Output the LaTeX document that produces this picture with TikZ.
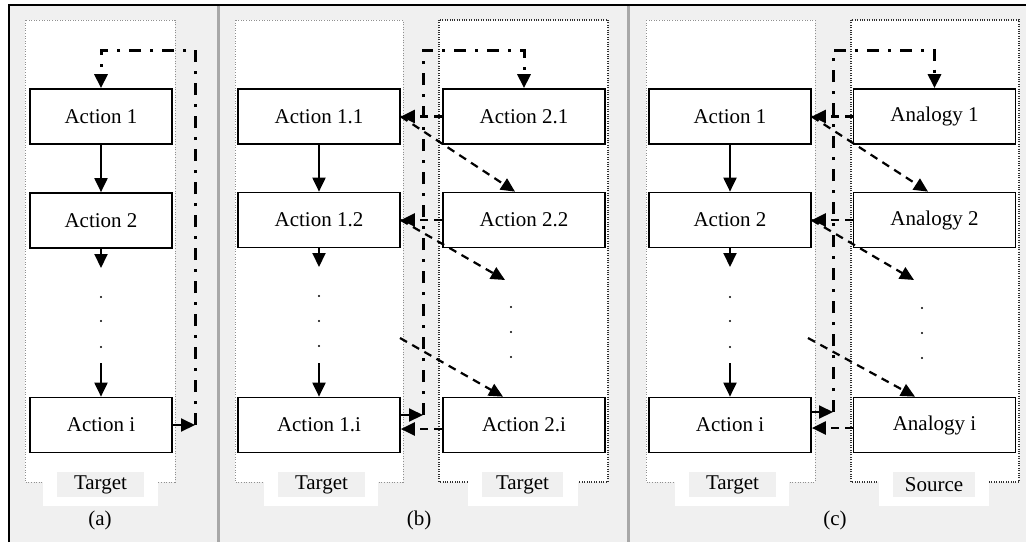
\documentclass[tikz,border=0pt]{standalone}
\usepackage{fontspec}
\setmainfont{Liberation Serif}
\usetikzlibrary{arrows.meta}
\definecolor{bgc}{HTML}{F0F0F0}
\definecolor{sepc}{HTML}{A8A8A8}
\definecolor{dotlight}{HTML}{909090}
\definecolor{dotdark}{HTML}{303030}
\begin{document}
\begin{tikzpicture}[x=1pt,y=-1pt,
  txt/.style={font=\fontsize{21}{24}\selectfont},
  box/.style={txt,draw,line width=1.7pt,fill=white,minimum height=55pt,inner sep=0pt},
  nbox/.style={box,minimum width=142pt},
  wbox/.style={box,minimum width=162pt},
  tip/.style={-{Triangle[length=14pt,width=13pt]}},
  solidarrow/.style={tip,line width=2pt},
  dasharrow/.style={tip,line width=2.2pt,dash pattern=on 8pt off 6pt},
  dashdot/.style={tip,line width=3pt,dash pattern=on 12pt off 9pt on 3pt off 9pt},
  contl/.style={draw=dotlight,fill=white,line width=1pt,dash pattern=on 1pt off 1.6pt},
  contd/.style={draw=dotdark,fill=white,line width=1.1pt,dash pattern=on 1pt off 1.4pt},
  whitelab/.style={fill=white,minimum height=34pt,inner sep=0pt},
  graylab/.style={txt,fill=bgc,minimum height=25pt,inner sep=0pt}
]
\useasboundingbox (0,0) rectangle (1026,542);
\fill[white] (0,0) rectangle (1026,542);
\fill[bgc] (8,4) rectangle (1026,542);
\draw[line width=2pt] (8.5,542) -- (8.5,4.5) -- (1026,4.5);
\draw[sepc,line width=3pt] (218,5.5) -- (218,542);
\draw[sepc,line width=3pt] (628,5.5) -- (628,542);

% containers
\draw[contl] (25,20) rectangle (175,482);
\draw[contl] (235,20) rectangle (403,482);
\draw[contd] (439,20) rectangle (608,482);
\draw[contl] (646,20) rectangle (815,482);
\draw[contd] (851,20) rectangle (1019,482);

% bottom labels
\node[whitelab,minimum width=115pt] (wla) at (100.5,489) {};
\node[graylab,minimum width=87pt] (la) at (100.5,484.5) {Target};
\node[whitelab,minimum width=114pt] (wlb1) at (321,489) {};
\node[graylab,minimum width=87pt] (lb1) at (321.5,484.5) {Target};
\node[whitelab,minimum width=110pt] (wlb2) at (523,489) {};
\node[graylab,minimum width=81pt] (lb2) at (522.5,484.5) {Target};
\node[whitelab,minimum width=114pt] (wlc1) at (732,489) {};
\node[graylab,minimum width=87pt] (lc1) at (732.5,484.5) {Target};
\node[whitelab,minimum width=110pt] (wlc2) at (934,489) {};
\node[graylab,minimum width=82pt] (lc2) at (934,484.5) {Source};

\node[txt] (pa) at (100,520) {(a)};
\node[txt] (pb) at (419,520) {(b)};
\node[txt] (pc) at (835,520) {(c)};

% ---------- panel (a)
\node[nbox] (a1) at (101,116.5) {Action 1};
\node[nbox] (a2) at (101,220.5) {Action 2};
\node[nbox] (ai) at (101,425) {Action i};
\coordinate (a3) at (101,268);
\coordinate (a4) at (101,363);
\coordinate (aj) at (195,425);
\coordinate (atop) at (195,50);
\draw[solidarrow] (a1) -- (a2);
\draw[solidarrow] (a2.south) -- (a3);
\draw[solidarrow] (a4) -- (ai.north);
\foreach \y in {297,321,347} \fill (101,\y) circle (1.2pt);
\draw[solidarrow] (ai.east) -- (aj);
\draw[dashdot] (aj) -- (atop) -| (a1.north);

% ---------- panel (b)
\node[wbox] (b11) at (319,116.5) {Action 1.1};
\node[wbox] (b12) at (319,220) {Action 1.2};
\node[wbox] (b1i) at (319,425) {Action 1.i};
\node[wbox] (b21) at (524,116.5) {Action 2.1};
\node[wbox] (b22) at (524,220) {Action 2.2};
\node[wbox] (b2i) at (524,425) {Action 2.i};
\coordinate (b3) at (319,267);
\coordinate (b4) at (319,363);
\draw[solidarrow] (b11) -- (b12);
\draw[solidarrow] (b12.south) -- (b3);
\draw[solidarrow] (b4) -- (b1i.north);
\foreach \y in {296,321,346} \fill (319,\y) circle (1.2pt);
\foreach \y in {307,332,357} \fill (511,\y) circle (1.2pt);
\draw[dasharrow] (b21.west) -- (b11.east);
\draw[dasharrow] (b22.west) -- (b12.east);
\draw[dasharrow] ([yshift=-4pt]b2i.west) -- ([yshift=-4pt]b1i.east);
\coordinate (bd2) at (505,280);
\coordinate (bd3) at (400,338);
\draw[dasharrow] (b11.east) -- ([xshift=-9pt]b22.north);
\draw[dasharrow] (b12.east) -- (bd2);
\draw[dasharrow] (bd3) -- ([xshift=-21pt]b2i.north);
\coordinate (bj) at (423,415);
\coordinate (btop) at (423,50);
\draw[solidarrow] ([yshift=10pt]b1i.east) -- (bj);
\draw[dashdot] (bj) -- (btop) -| (b21.north);

% ---------- panel (c)
\node[wbox] (c11) at (730,116.5) {Action 1};
\node[wbox] (c12) at (730,220) {Action 2};
\node[wbox] (c1i) at (730,425) {Action i};
\node[wbox] (c21) at (934.5,116.5) {Analogy 1};
\node[wbox] (c22) at (934.5,220) {Analogy 2};
\node[wbox] (c2i) at (934.5,425) {Analogy i};
\coordinate (c3) at (730,267);
\coordinate (c4) at (730,363);
\draw[solidarrow] (c11) -- (c12);
\draw[solidarrow] (c12.south) -- (c3);
\draw[solidarrow] (c4) -- (c1i.north);
\foreach \y in {297,321,347} \fill (730,\y) circle (1.2pt);
\foreach \y in {308,333,358} \fill (922,\y) circle (1.2pt);
\draw[dasharrow] (c21.west) -- (c11.east);
\draw[dasharrow] (c22.west) -- (c12.east);
\draw[dasharrow] ([yshift=-3pt]c2i.west) -- ([yshift=-3pt]c1i.east);
\coordinate (cd2) at (914,280);
\coordinate (cd3) at (808,338);
\draw[dasharrow] (c11.east) -- ([xshift=-6.5pt]c22.north);
\draw[dasharrow] (c12.east) -- (cd2);
\draw[dasharrow] (cd3) -- ([xshift=-19.5pt]c2i.north);
\coordinate (cj) at (833,412);
\coordinate (ctop) at (833,50);
\draw[solidarrow] ([yshift=13pt]c1i.east) -- (cj);
\draw[dashdot] (cj) -- (ctop) -| (c21.north);
\end{tikzpicture}
\end{document}
